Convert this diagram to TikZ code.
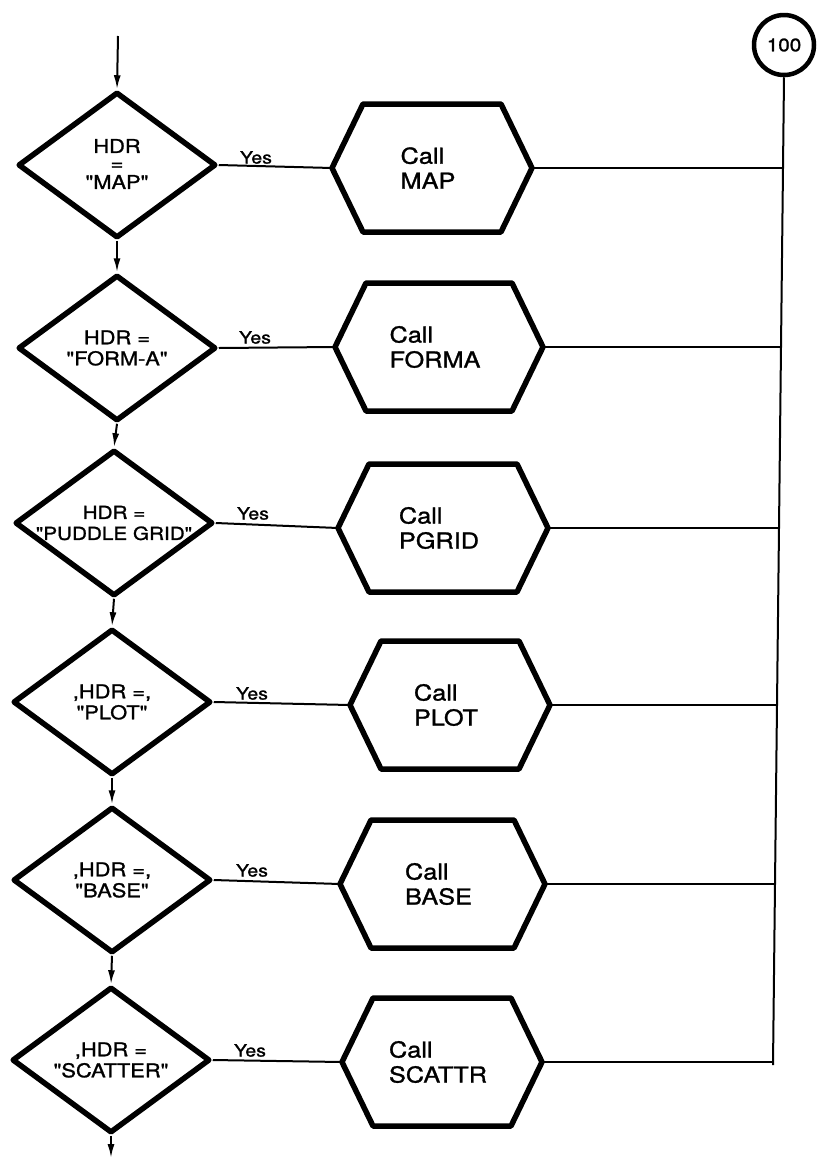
\documentclass[tikz,border=0pt]{standalone}
\usepackage{fontspec}
\setmainfont{TeX Gyre Heros}
\newfontfamily\lettering{TeX Gyre Heros}[FakeStretch=1.15,FakeBold=1.2]
\usetikzlibrary{shapes.geometric,arrows.meta}
\begin{document}
\begin{tikzpicture}[x=1pt,y=-1pt,
  dec/.style={diamond, draw, line width=5.5pt, minimum width=198pt, minimum height=146pt, inner sep=0pt, line join=round},
  dtext/.style={font=\lettering\fontsize{19}{21}\selectfont, align=center, inner sep=0pt},
  hbox/.style={rectangle, minimum height=128pt, inner sep=0pt, outer sep=0pt},
  hexline/.style={line width=5.5pt, line join=round},
  htext/.style={font=\lettering\fontsize{22}{25}\selectfont, align=left, inner sep=0pt},
  conn/.style={line width=2pt},
  arr/.style={conn, -{Latex[length=14pt,width=7pt]}},
  yes/.style={font=\lettering\fontsize{17}{20}\selectfont, anchor=south, inner sep=2pt},
  conncirc/.style={circle, draw, line width=4.5pt, minimum size=60pt, inner sep=0pt, font=\lettering\fontsize{18}{22}\selectfont}
]
\useasboundingbox (0,0) rectangle (819,1160);

% decisions
\node[dec] (d1) at (117,165) {};
\node[dec] (d2) at (117,348) {};
\node[dec] (d3) at (114,523) {};
\node[dec] (d4) at (112,702) {};
\node[dec] (d5) at (112,880) {};
\node[dec] (d6) at (111,1060) {};

\node[dtext] (t1) at ([yshift=1pt]d1.center) {HDR\\[-4pt]=\\[-2pt]"MAP"};
\node[dtext] (t2) at (d2.center) {HDR =\\"FORM-A"};
\node[dtext, font=\lettering\fontsize{18}{21}\selectfont] (t3) at (d3.center) {HDR =\\"PUDDLE GRID"};
\node[dtext] (t4) at (d4.center) {,HDR =,\\"PLOT"};
\node[dtext] (t5) at (d5.center) {,HDR =,\\"BASE"};
\node[dtext] (t6) at (d6.center) {,HDR =\\"SCATTER"};

% connector circle and bus
\node[conncirc] (c100) at (784,45) {100};
\coordinate (busbot) at (773,1065);

% subroutine calls
\foreach \i/\l/\r/\y/\nm/\bx in {1/332/532/168/MAP/783, 2/335/543/347/FORMA/781, 3/338/548/528/PGRID/779, 4/350/550/705/PLOT/777, 5/340/545/884/BASE/775, 6/342/542/1062/SCATTR/773}{
  \pgfmathsetmacro\w{\r-\l}
  \pgfmathsetmacro\cx{(\l+\r)/2}
  \node[hbox, minimum width=\w pt] (h\i) at (\cx,\y) {};
  \draw[hexline] (h\i.west) -- ([xshift=31pt]h\i.north west) -- ([xshift=-31pt]h\i.north east)
     -- (h\i.east) -- ([xshift=-31pt]h\i.south east) -- ([xshift=31pt]h\i.south west) -- cycle;
  \node[htext] (ht\i) at ([xshift=-4pt]h\i.center) {Call\\\nm};
  \coordinate (b\i) at (\bx,\y);
  \draw[conn] (d\i.east) -- (h\i.west);
  \draw[conn] (h\i.east) -- (b\i);
}

\draw[conn] (c100.south) -- (b1) -- (b2) -- (b3) -- (b4) -- (b5) -- (busbot);

% Yes labels
\node[yes] (y1) at (256,166) {Yes};
\node[yes] (y2) at (255,346) {Yes};
\node[yes] (y3) at (253,522) {Yes};
\node[yes] (y4) at (252,702) {Yes};
\node[yes] (y5) at (252,879) {Yes};
\node[yes] (y6) at (250,1059) {Yes};

% flow arrows
\coordinate (start) at (118,36);
\coordinate (finish) at (111,1158);
\draw[arr] (start) -- (d1.north);
\draw[arr] (d1.south) -- (d2.north);
\draw[arr] (d2.south) -- (d3.north);
\draw[arr] (d3.south) -- (d4.north);
\draw[arr] (d4.south) -- (d5.north);
\draw[arr] (d5.south) -- (d6.north);
\draw[arr] (d6.south) -- (finish);
\end{tikzpicture}
\end{document}
